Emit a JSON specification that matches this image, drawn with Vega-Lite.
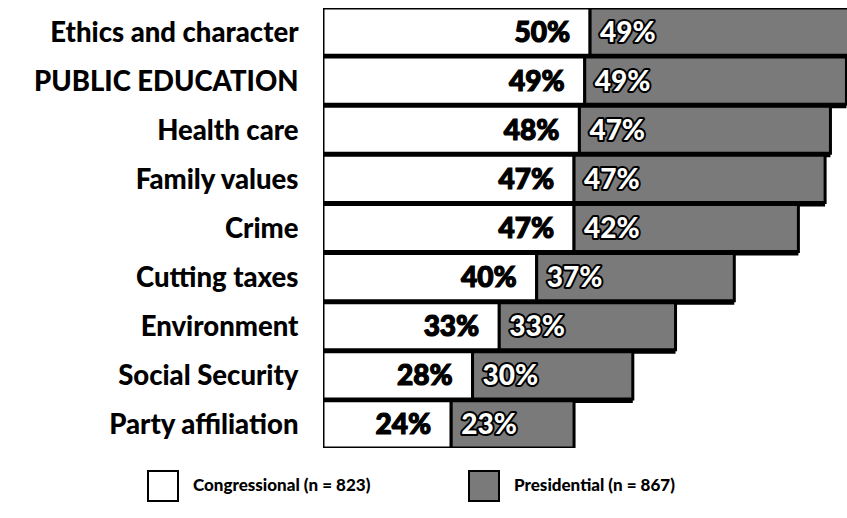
{
  "$schema": "https://vega.github.io/schema/vega-lite/v6.json",
  "autosize": "none",
  "width": 524,
  "height": 440,
  "padding": {"left": 323, "top": 8, "right": 0, "bottom": 70},
  "background": "white",
  "config": {"view": {"stroke": null}, "font": "Lato"},
  "data": {"values": [
    {"issue": "Ethics and character", "series": "Congressional (n = 823)", "value": 50},
    {"issue": "Ethics and character", "series": "Presidential (n = 867)", "value": 49},
    {"issue": "PUBLIC EDUCATION", "series": "Congressional (n = 823)", "value": 49},
    {"issue": "PUBLIC EDUCATION", "series": "Presidential (n = 867)", "value": 49},
    {"issue": "Health care", "series": "Congressional (n = 823)", "value": 48},
    {"issue": "Health care", "series": "Presidential (n = 867)", "value": 47},
    {"issue": "Family values", "series": "Congressional (n = 823)", "value": 47},
    {"issue": "Family values", "series": "Presidential (n = 867)", "value": 47},
    {"issue": "Crime", "series": "Congressional (n = 823)", "value": 47},
    {"issue": "Crime", "series": "Presidential (n = 867)", "value": 42},
    {"issue": "Cutting taxes", "series": "Congressional (n = 823)", "value": 40},
    {"issue": "Cutting taxes", "series": "Presidential (n = 867)", "value": 37},
    {"issue": "Environment", "series": "Congressional (n = 823)", "value": 33},
    {"issue": "Environment", "series": "Presidential (n = 867)", "value": 33},
    {"issue": "Social Security", "series": "Congressional (n = 823)", "value": 28},
    {"issue": "Social Security", "series": "Presidential (n = 867)", "value": 30},
    {"issue": "Party affiliation", "series": "Congressional (n = 823)", "value": 24},
    {"issue": "Party affiliation", "series": "Presidential (n = 867)", "value": 23}
  ]},
  "transform": [
    {"stack": "value", "groupby": ["issue"], "sort": [{"field": "series"}], "as": ["v0", "v1"]},
    {"calculate": "datum.value + '%'", "as": "label"}
  ],
  "encoding": {
    "y": {
      "field": "issue", "type": "nominal", "sort": null, "title": null,
      "scale": {"paddingInner": 0.04, "paddingOuter": 0},
      "axis": {"ticks": false, "domain": false, "labelPadding": 25, "labelFontSize": 27.5, "labelFontWeight": 900, "labelColor": "black", "labelFont": "Lato", "labelLimit": 400, "labelOffset": 2}
    }
  },
  "layer": [
    {
      "transform": [{"filter": "datum.series == 'Presidential (n = 867)'"}],
      "mark": {"type": "bar", "fill": "black", "xOffset": 5, "yOffset": 4, "clip": true},
      "encoding": {
        "x": {"field": "v0", "type": "quantitative", "scale": {"domain": [0, 98.1], "nice": false, "zero": true}, "axis": null},
        "x2": {"field": "v1"}
      }
    },
    {
      "mark": {"type": "bar", "stroke": "black", "strokeWidth": 3, "clip": true},
      "encoding": {
        "x": {"field": "v0", "type": "quantitative", "scale": {"domain": [0, 98.1], "nice": false}, "axis": null},
        "x2": {"field": "v1"},
        "fill": {
          "field": "series", "type": "nominal",
          "scale": {"range": ["white", "#7a7a7a"]},
          "legend": {
            "title": null, "orient": "none", "direction": "horizontal",
            "legendX": -176, "legendY": 462,
            "symbolType": "square", "symbolSize": 900,
            "symbolStrokeColor": "black", "symbolStrokeWidth": 2,
            "labelFontSize": 17, "labelFontWeight": 900, "labelColor": "black", "labelFont": "Lato",
            "labelOffset": 14, "columnPadding": 94, "labelLimit": 300
          }
        }
      }
    },
    {
      "transform": [{"filter": "datum.series == 'Congressional (n = 823)'"}],
      "mark": {"type": "text", "align": "right", "dx": -20, "dy": 2, "fontSize": 28, "fontWeight": 900, "fill": "black", "stroke": "black", "strokeWidth": 1.2, "font": "Lato", "letterSpacing": -2},
      "encoding": {
        "x": {"field": "v1", "type": "quantitative"},
        "text": {"field": "label"}
      }
    },
    {
      "transform": [{"filter": "datum.series == 'Presidential (n = 867)'"}],
      "mark": {"type": "text", "align": "left", "dx": 10, "dy": 2, "fontSize": 28, "fontWeight": 900, "fill": "black", "stroke": "black", "strokeWidth": 4, "strokeJoin": "round", "font": "Lato", "letterSpacing": -2},
      "encoding": {
        "x": {"field": "v0", "type": "quantitative"},
        "text": {"field": "label"}
      }
    },
    {
      "transform": [{"filter": "datum.series == 'Presidential (n = 867)'"}],
      "mark": {"type": "text", "align": "left", "dx": 10, "dy": 2, "fontSize": 28, "fontWeight": 900, "fill": "white", "font": "Lato", "letterSpacing": -2},
      "encoding": {
        "x": {"field": "v0", "type": "quantitative"},
        "text": {"field": "label"}
      }
    }
  ]
}
